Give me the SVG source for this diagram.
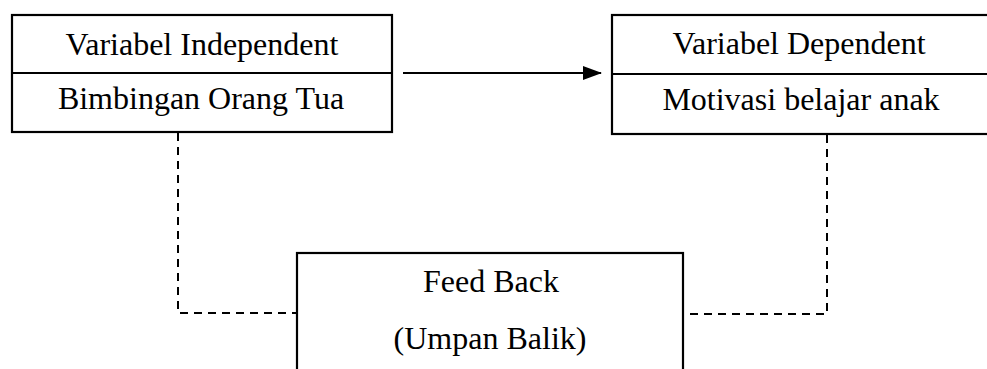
<svg xmlns="http://www.w3.org/2000/svg" width="987" height="369" viewBox="0 0 987 369">
  <style>
    .box { fill: none; stroke: #000; stroke-width: 2.2; }
    .div { stroke: #000; stroke-width: 2.2; }
    .lbl { font-family: "Liberation Serif", "Times New Roman", serif; font-size: 32px; fill: #000; text-anchor: middle; }
    .dash { fill: none; stroke: #000; stroke-width: 2; stroke-dasharray: 8 6; }
    .solid { fill: none; stroke: #000; stroke-width: 2.2; }
  </style>
  <defs>
    <marker id="arrow" markerUnits="userSpaceOnUse" markerWidth="19" markerHeight="16" refX="18" refY="8" orient="auto">
      <path d="M0,1 L19,8 L0,15 Z" fill="#000"/>
    </marker>
  </defs>
  <rect width="987" height="369" fill="#fff"/>

  <g id="independent">
    <rect class="box" x="12" y="15" width="380" height="117"/>
    <line class="div" x1="12" y1="73" x2="392" y2="73"/>
    <text class="lbl" x="202" y="55">Variabel Independent</text>
    <text class="lbl" x="201" y="109">Bimbingan Orang Tua</text>
  </g>

  <g id="dependent">
    <rect class="box" x="612" y="15" width="390" height="119"/>
    <line class="div" x1="612" y1="74" x2="1002" y2="74"/>
    <text class="lbl" x="799" y="54">Variabel Dependent</text>
    <text class="lbl" x="801" y="110">Motivasi belajar anak</text>
  </g>

  <g id="feedback">
    <rect class="box" x="297" y="253" width="386" height="140"/>
    <text class="lbl" x="491" y="292">Feed Back</text>
    <text class="lbl" x="490" y="349">(Umpan Balik)</text>
  </g>

  <g id="connectors">
    <line class="solid" x1="403" y1="73" x2="601" y2="73" marker-end="url(#arrow)"/>
    <polyline class="dash" points="178,133 178,313 297,313"/>
    <polyline class="dash" points="827,135 827,314 683,314"/>
  </g>
</svg>
